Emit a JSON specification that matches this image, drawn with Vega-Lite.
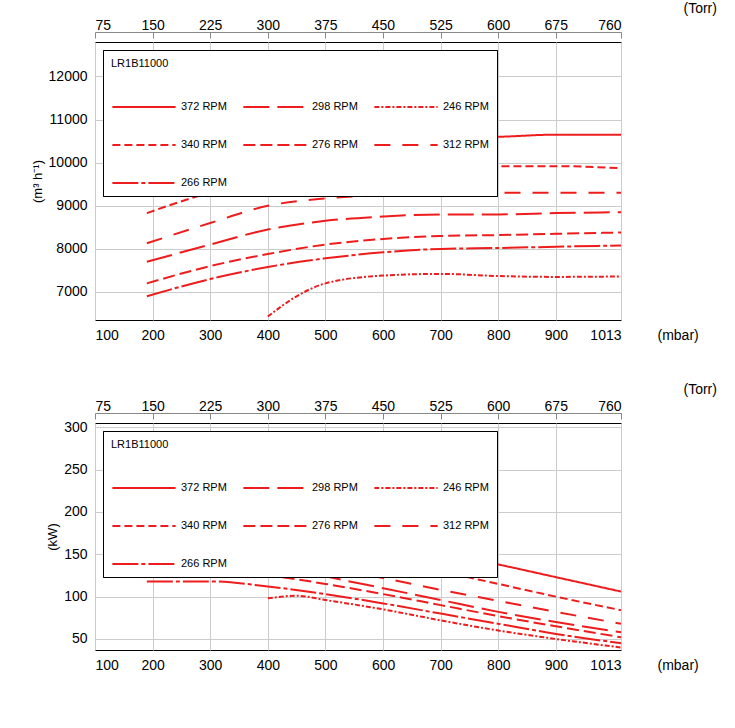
{
  "$schema": "https://vega.github.io/schema/vega-lite/v6.json",
  "background": "white",
  "padding": {"left": 30, "top": 0, "right": 5, "bottom": 5},
  "spacing": 38,
  "config": {
    "font": "Liberation Sans",
    "view": {"stroke": "black", "strokeWidth": 1},
    "axis": {"labelFontSize": 14, "labelColor": "black", "titleFontSize": 14, "titleFontWeight": "normal", "gridColor": "#cccccc", "domain": false, "ticks": false, "labelPadding": 8},
    "legend": {"titleFontSize": 11, "titleFontWeight": "normal", "labelFontSize": 11, "labelColor": "black", "titleColor": "black"}
  },
  "resolve": {"scale": {"color": "independent", "strokeDash": "independent"}, "legend": {"color": "independent", "strokeDash": "independent"}},
  "datasets": {
    "flow": [
      {"mbar": 190, "v": 9620, "s": "372 RPM"}, {"mbar": 300, "v": 9950, "s": "372 RPM"}, {"mbar": 400, "v": 10170, "s": "372 RPM"}, {"mbar": 500, "v": 10350, "s": "372 RPM"}, {"mbar": 600, "v": 10500, "s": "372 RPM"}, {"mbar": 700, "v": 10580, "s": "372 RPM"}, {"mbar": 800, "v": 10600, "s": "372 RPM"}, {"mbar": 900, "v": 10650, "s": "372 RPM"}, {"mbar": 1013, "v": 10650, "s": "372 RPM"},
      {"mbar": 190, "v": 8830, "s": "340 RPM"}, {"mbar": 300, "v": 9300, "s": "340 RPM"}, {"mbar": 400, "v": 9570, "s": "340 RPM"}, {"mbar": 500, "v": 9780, "s": "340 RPM"}, {"mbar": 600, "v": 9920, "s": "340 RPM"}, {"mbar": 700, "v": 9930, "s": "340 RPM"}, {"mbar": 800, "v": 9920, "s": "340 RPM"}, {"mbar": 900, "v": 9920, "s": "340 RPM"}, {"mbar": 1013, "v": 9870, "s": "340 RPM"},
      {"mbar": 190, "v": 8130, "s": "312 RPM"}, {"mbar": 300, "v": 8600, "s": "312 RPM"}, {"mbar": 400, "v": 9000, "s": "312 RPM"}, {"mbar": 500, "v": 9170, "s": "312 RPM"}, {"mbar": 600, "v": 9250, "s": "312 RPM"}, {"mbar": 700, "v": 9300, "s": "312 RPM"}, {"mbar": 800, "v": 9300, "s": "312 RPM"}, {"mbar": 900, "v": 9300, "s": "312 RPM"}, {"mbar": 1013, "v": 9300, "s": "312 RPM"},
      {"mbar": 190, "v": 7700, "s": "298 RPM"}, {"mbar": 300, "v": 8100, "s": "298 RPM"}, {"mbar": 400, "v": 8450, "s": "298 RPM"}, {"mbar": 500, "v": 8650, "s": "298 RPM"}, {"mbar": 600, "v": 8750, "s": "298 RPM"}, {"mbar": 700, "v": 8800, "s": "298 RPM"}, {"mbar": 800, "v": 8800, "s": "298 RPM"}, {"mbar": 900, "v": 8830, "s": "298 RPM"}, {"mbar": 1013, "v": 8850, "s": "298 RPM"},
      {"mbar": 190, "v": 7200, "s": "276 RPM"}, {"mbar": 300, "v": 7600, "s": "276 RPM"}, {"mbar": 400, "v": 7880, "s": "276 RPM"}, {"mbar": 500, "v": 8100, "s": "276 RPM"}, {"mbar": 600, "v": 8230, "s": "276 RPM"}, {"mbar": 700, "v": 8300, "s": "276 RPM"}, {"mbar": 800, "v": 8320, "s": "276 RPM"}, {"mbar": 900, "v": 8350, "s": "276 RPM"}, {"mbar": 1013, "v": 8380, "s": "276 RPM"},
      {"mbar": 190, "v": 6900, "s": "266 RPM"}, {"mbar": 300, "v": 7300, "s": "266 RPM"}, {"mbar": 400, "v": 7580, "s": "266 RPM"}, {"mbar": 500, "v": 7780, "s": "266 RPM"}, {"mbar": 600, "v": 7920, "s": "266 RPM"}, {"mbar": 700, "v": 8000, "s": "266 RPM"}, {"mbar": 800, "v": 8020, "s": "266 RPM"}, {"mbar": 900, "v": 8050, "s": "266 RPM"}, {"mbar": 1013, "v": 8080, "s": "266 RPM"},
      {"mbar": 400, "v": 6430, "s": "246 RPM"}, {"mbar": 450, "v": 6900, "s": "246 RPM"}, {"mbar": 500, "v": 7200, "s": "246 RPM"}, {"mbar": 600, "v": 7380, "s": "246 RPM"}, {"mbar": 700, "v": 7420, "s": "246 RPM"}, {"mbar": 800, "v": 7370, "s": "246 RPM"}, {"mbar": 900, "v": 7350, "s": "246 RPM"}, {"mbar": 1013, "v": 7360, "s": "246 RPM"}
    ],
    "power": [
      {"mbar": 190, "v": 195, "s": "372 RPM"}, {"mbar": 300, "v": 200, "s": "372 RPM"}, {"mbar": 400, "v": 192, "s": "372 RPM"}, {"mbar": 500, "v": 178, "s": "372 RPM"}, {"mbar": 600, "v": 165, "s": "372 RPM"}, {"mbar": 700, "v": 152, "s": "372 RPM"}, {"mbar": 800, "v": 138, "s": "372 RPM"}, {"mbar": 900, "v": 123, "s": "372 RPM"}, {"mbar": 1013, "v": 106, "s": "372 RPM"},
      {"mbar": 190, "v": 176, "s": "340 RPM"}, {"mbar": 300, "v": 180, "s": "340 RPM"}, {"mbar": 400, "v": 172, "s": "340 RPM"}, {"mbar": 500, "v": 158, "s": "340 RPM"}, {"mbar": 600, "v": 144, "s": "340 RPM"}, {"mbar": 700, "v": 130, "s": "340 RPM"}, {"mbar": 800, "v": 115, "s": "340 RPM"}, {"mbar": 900, "v": 100, "s": "340 RPM"}, {"mbar": 1013, "v": 84, "s": "340 RPM"},
      {"mbar": 190, "v": 153, "s": "312 RPM"}, {"mbar": 300, "v": 158, "s": "312 RPM"}, {"mbar": 400, "v": 150, "s": "312 RPM"}, {"mbar": 500, "v": 135, "s": "312 RPM"}, {"mbar": 600, "v": 122, "s": "312 RPM"}, {"mbar": 700, "v": 108, "s": "312 RPM"}, {"mbar": 800, "v": 95, "s": "312 RPM"}, {"mbar": 900, "v": 82, "s": "312 RPM"}, {"mbar": 1013, "v": 68, "s": "312 RPM"},
      {"mbar": 190, "v": 143, "s": "298 RPM"}, {"mbar": 300, "v": 146, "s": "298 RPM"}, {"mbar": 400, "v": 140, "s": "298 RPM"}, {"mbar": 500, "v": 124, "s": "298 RPM"}, {"mbar": 600, "v": 110, "s": "298 RPM"}, {"mbar": 700, "v": 96, "s": "298 RPM"}, {"mbar": 800, "v": 82, "s": "298 RPM"}, {"mbar": 900, "v": 70, "s": "298 RPM"}, {"mbar": 1013, "v": 58, "s": "298 RPM"},
      {"mbar": 190, "v": 126, "s": "276 RPM"}, {"mbar": 300, "v": 129, "s": "276 RPM"}, {"mbar": 400, "v": 125, "s": "276 RPM"}, {"mbar": 500, "v": 115, "s": "276 RPM"}, {"mbar": 600, "v": 103, "s": "276 RPM"}, {"mbar": 700, "v": 90, "s": "276 RPM"}, {"mbar": 800, "v": 77, "s": "276 RPM"}, {"mbar": 900, "v": 65, "s": "276 RPM"}, {"mbar": 1013, "v": 52, "s": "276 RPM"},
      {"mbar": 190, "v": 118, "s": "266 RPM"}, {"mbar": 300, "v": 118, "s": "266 RPM"}, {"mbar": 400, "v": 112, "s": "266 RPM"}, {"mbar": 500, "v": 103, "s": "266 RPM"}, {"mbar": 600, "v": 92, "s": "266 RPM"}, {"mbar": 700, "v": 80, "s": "266 RPM"}, {"mbar": 800, "v": 68, "s": "266 RPM"}, {"mbar": 900, "v": 56, "s": "266 RPM"}, {"mbar": 1013, "v": 45, "s": "266 RPM"},
      {"mbar": 400, "v": 98, "s": "246 RPM"}, {"mbar": 450, "v": 101, "s": "246 RPM"}, {"mbar": 500, "v": 96, "s": "246 RPM"}, {"mbar": 600, "v": 85, "s": "246 RPM"}, {"mbar": 700, "v": 72, "s": "246 RPM"}, {"mbar": 800, "v": 60, "s": "246 RPM"}, {"mbar": 900, "v": 50, "s": "246 RPM"}, {"mbar": 1013, "v": 40, "s": "246 RPM"}
    ],
    "torr": [{"t": 75}, {"t": 760}]
  },
  "vconcat": [
    {
      "width": 526,
      "height": 278,
      "layer": [
        {
          "data": {"name": "flow"},
          "mark": {"type": "line", "strokeWidth": 2, "interpolate": "monotone"},
          "encoding": {
            "x": {"field": "mbar", "type": "quantitative", "scale": {"domain": [100, 1013], "nice": false},
              "axis": {"values": [100, 200, 300, 400, 500, 600, 700, 800, 900, 1013], "format": "d", "title": "(mbar)", "titleAngle": 0, "titleX": 562, "titleY": 8, "titleBaseline": "top", "titleAlign": "left"}},
            "y": {"field": "v", "type": "quantitative", "scale": {"domain": [6350, 12800], "nice": false, "zero": false},
              "axis": {"values": [7000, 8000, 9000, 10000, 11000, 12000], "format": "d", "title": "(m³ h⁻¹)", "titleFontSize": 13}},
            "color": {"field": "s", "type": "nominal", "sort": ["372 RPM", "340 RPM", "312 RPM", "298 RPM", "276 RPM", "266 RPM", "246 RPM"],
              "scale": {"range": ["#ee1c1c"]},
              "legend": {"title": "LR1B11000", "orient": "none", "legendX": 8, "legendY": 8, "columns": 3, "symbolType": "stroke", "symbolSize": 4000, "symbolStrokeWidth": 2, "symbolStrokeColor": "#ee1c1c", "rowPadding": -46, "columnPadding": 12, "padding": 8, "strokeColor": "black", "fillColor": "white"}},
            "strokeDash": {"field": "s", "type": "nominal", "sort": ["372 RPM", "340 RPM", "312 RPM", "298 RPM", "276 RPM", "266 RPM", "246 RPM"],
              "scale": {"range": [[1, 0], [8, 4], [16, 12], [26, 8], [12, 5], [26, 3, 4, 3], [5, 2, 2, 2]]},
              "legend": {"title": "LR1B11000", "orient": "none", "legendX": 8, "legendY": 8, "columns": 3, "symbolType": "stroke", "symbolSize": 4000, "symbolStrokeWidth": 2, "symbolStrokeColor": "#ee1c1c", "rowPadding": -46, "columnPadding": 12, "padding": 8, "strokeColor": "black", "fillColor": "white"}}
          }
        },
        {
          "data": {"name": "torr"},
          "mark": {"type": "rule", "opacity": 0},
          "encoding": {
            "x": {"field": "t", "type": "quantitative", "scale": {"domain": [75, 760], "nice": false},
              "axis": {"orient": "top", "offset": 10, "values": [75, 150, 225, 300, 375, 450, 525, 600, 675, 760], "grid": false, "domain": true, "domainColor": "#888", "ticks": true, "tickColor": "#888", "tickSize": -6, "labelPadding": 6, "title": "(Torr)", "titleAngle": 0, "titleX": 588, "titleY": -31, "titleBaseline": "top", "titleAlign": "left"}}
          }
        }
      ],
      "resolve": {"scale": {"x": "independent"}}
    },
    {
      "width": 526,
      "height": 227,
      "layer": [
        {
          "data": {"name": "power"},
          "mark": {"type": "line", "strokeWidth": 2, "interpolate": "monotone"},
          "encoding": {
            "x": {"field": "mbar", "type": "quantitative", "scale": {"domain": [100, 1013], "nice": false},
              "axis": {"values": [100, 200, 300, 400, 500, 600, 700, 800, 900, 1013], "format": "d", "title": "(mbar)", "titleAngle": 0, "titleX": 562, "titleY": 8, "titleBaseline": "top", "titleAlign": "left"}},
            "y": {"field": "v", "type": "quantitative", "scale": {"domain": [37, 305], "nice": false, "zero": false},
              "axis": {"values": [50, 100, 150, 200, 250, 300], "title": "(kW)", "titleFontSize": 13}},
            "color": {"field": "s", "type": "nominal", "sort": ["372 RPM", "340 RPM", "312 RPM", "298 RPM", "276 RPM", "266 RPM", "246 RPM"],
              "scale": {"range": ["#ee1c1c"]},
              "legend": {"title": "LR1B11000", "orient": "none", "legendX": 8, "legendY": 8, "columns": 3, "symbolType": "stroke", "symbolSize": 4000, "symbolStrokeWidth": 2, "symbolStrokeColor": "#ee1c1c", "rowPadding": -46, "columnPadding": 12, "padding": 8, "strokeColor": "black", "fillColor": "white"}},
            "strokeDash": {"field": "s", "type": "nominal", "sort": ["372 RPM", "340 RPM", "312 RPM", "298 RPM", "276 RPM", "266 RPM", "246 RPM"],
              "scale": {"range": [[1, 0], [8, 4], [16, 12], [26, 8], [12, 5], [26, 3, 4, 3], [5, 2, 2, 2]]},
              "legend": {"title": "LR1B11000", "orient": "none", "legendX": 8, "legendY": 8, "columns": 3, "symbolType": "stroke", "symbolSize": 4000, "symbolStrokeWidth": 2, "symbolStrokeColor": "#ee1c1c", "rowPadding": -46, "columnPadding": 12, "padding": 8, "strokeColor": "black", "fillColor": "white"}}
          }
        },
        {
          "data": {"name": "torr"},
          "mark": {"type": "rule", "opacity": 0},
          "encoding": {
            "x": {"field": "t", "type": "quantitative", "scale": {"domain": [75, 760], "nice": false},
              "axis": {"orient": "top", "offset": 10, "values": [75, 150, 225, 300, 375, 450, 525, 600, 675, 760], "grid": false, "domain": true, "domainColor": "#888", "ticks": true, "tickColor": "#888", "tickSize": -6, "labelPadding": 6, "title": "(Torr)", "titleAngle": 0, "titleX": 588, "titleY": -31, "titleBaseline": "top", "titleAlign": "left"}}
          }
        }
      ],
      "resolve": {"scale": {"x": "independent"}}
    }
  ]
}
